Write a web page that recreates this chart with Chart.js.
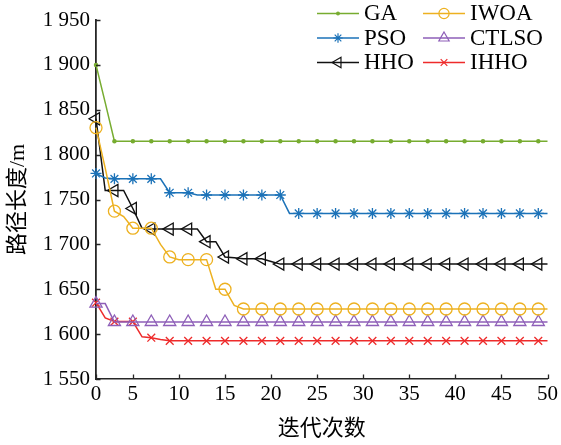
<!DOCTYPE html>
<html>
<head>
<meta charset="utf-8">
<script src="https://cdn.jsdelivr.net/npm/chart.js@4.4.0/dist/chart.umd.min.js"></script>
<style>
  html, body { margin: 0; padding: 0; background: #fff; }
</style>
</head>
<body>
<canvas id="canvasRuta" width="561" height="445"></canvas>
<script>
// iteraciones 1..50
var iteraciones = [
  1, 2, 3, 4, 5, 6, 7, 8, 9, 10,
  11, 12, 13, 14, 15, 16, 17, 18, 19, 20,
  21, 22, 23, 24, 25, 26, 27, 28, 29, 30,
  31, 32, 33, 34, 35, 36, 37, 38, 39, 40,
  41, 42, 43, 44, 45, 46, 47, 48, 49, 50
];

var ga = [
  1900, 1858, 1815, 1815, 1815, 1815, 1815, 1815, 1815, 1815,
  1815, 1815, 1815, 1815, 1815, 1815, 1815, 1815, 1815, 1815,
  1815, 1815, 1815, 1815, 1815, 1815, 1815, 1815, 1815, 1815,
  1815, 1815, 1815, 1815, 1815, 1815, 1815, 1815, 1815, 1815,
  1815, 1815, 1815, 1815, 1815, 1815, 1815, 1815, 1815, 1815
];
var pso = [
  1779, 1774, 1773, 1773, 1773, 1773, 1773, 1773, 1757.5, 1757.5,
  1757.5, 1755, 1755, 1755, 1755, 1755, 1755, 1755, 1755, 1755,
  1755, 1734.5, 1734.5, 1734.5, 1734.5, 1734.5, 1734.5, 1734.5, 1734.5, 1734.5,
  1734.5, 1734.5, 1734.5, 1734.5, 1734.5, 1734.5, 1734.5, 1734.5, 1734.5, 1734.5,
  1734.5, 1734.5, 1734.5, 1734.5, 1734.5, 1734.5, 1734.5, 1734.5, 1734.5, 1734.5
];
var hho = [
  1840, 1760, 1760, 1760, 1740, 1718, 1717, 1717, 1717, 1717,
  1717, 1717, 1703, 1703, 1686, 1685, 1684, 1684, 1684, 1681,
  1678, 1678, 1678, 1678, 1678, 1678, 1678, 1678, 1678, 1678,
  1678, 1678, 1678, 1678, 1678, 1678, 1678, 1678, 1678, 1678,
  1678, 1678, 1678, 1678, 1678, 1678, 1678, 1678, 1678, 1678
];
var iwoa = [
  1830, 1785, 1737, 1731, 1718, 1718, 1718, 1700, 1686, 1683,
  1683, 1683, 1683, 1650, 1650, 1632, 1628, 1628, 1628, 1628,
  1628, 1628, 1628, 1628, 1628, 1628, 1628, 1628, 1628, 1628,
  1628, 1628, 1628, 1628, 1628, 1628, 1628, 1628, 1628, 1628,
  1628, 1628, 1628, 1628, 1628, 1628, 1628, 1628, 1628, 1628
];
var ctlso = [
  1634, 1634, 1613.5, 1613.5, 1613.5, 1613.5, 1613.5, 1613.5, 1613.5, 1613.5,
  1613.5, 1613.5, 1613.5, 1613.5, 1613.5, 1613.5, 1613.5, 1613.5, 1613.5, 1613.5,
  1613.5, 1613.5, 1613.5, 1613.5, 1613.5, 1613.5, 1613.5, 1613.5, 1613.5, 1613.5,
  1613.5, 1613.5, 1613.5, 1613.5, 1613.5, 1613.5, 1613.5, 1613.5, 1613.5, 1613.5,
  1613.5, 1613.5, 1613.5, 1613.5, 1613.5, 1613.5, 1613.5, 1613.5, 1613.5, 1613.5
];
var ihho = [
  1635, 1618, 1614, 1614, 1614, 1597, 1596, 1594, 1592.5, 1592.5,
  1592.5, 1592.5, 1592.5, 1592.5, 1592.5, 1592.5, 1592.5, 1592.5, 1592.5, 1592.5,
  1592.5, 1592.5, 1592.5, 1592.5, 1592.5, 1592.5, 1592.5, 1592.5, 1592.5, 1592.5,
  1592.5, 1592.5, 1592.5, 1592.5, 1592.5, 1592.5, 1592.5, 1592.5, 1592.5, 1592.5,
  1592.5, 1592.5, 1592.5, 1592.5, 1592.5, 1592.5, 1592.5, 1592.5, 1592.5, 1592.5
];

// ticks
var xTickValues = [1, 5, 10, 15, 20, 25, 30, 35, 40, 45, 50];
var xTickLabels = ["0", "5", "10", "15", "20", "25", "30", "35", "40", "45", "50"];
var yTickValues = [1550, 1600, 1650, 1700, 1750, 1800, 1850, 1900, 1950];

var serif = "'Liberation Serif', 'Noto Sans CJK SC', serif";
var axisColor = "#262626";

// estilo de cada serie (orden de la leyenda: fila por fila)
var series = [
  { label: "GA", data: ga, color: "#77ac30", style: "circle", r: 1.6, rot: 0, fill: "#77ac30" },
  { label: "IWOA", data: iwoa, color: "#edb120", style: "circle", r: 6, rot: 0, fill: "rgba(0,0,0,0)" },
  { label: "PSO", data: pso, color: "#1b72b8", style: "star", r: 5.5, rot: 0, fill: "rgba(0,0,0,0)" },
  { label: "CTLSO", data: ctlso, color: "#8e5fb8", style: "triangle", r: 7, rot: 0, fill: "rgba(0,0,0,0)" },
  { label: "HHO", data: hho, color: "#111111", style: "triangle", r: 7, rot: -90, fill: "rgba(0,0,0,0)" },
  { label: "IHHO", data: ihho, color: "#ee2b2b", style: "crossRot", r: 5.5, rot: 0, fill: "rgba(0,0,0,0)" }
];

function markerCada2(r) {
  return function (c) {
    return c.dataIndex % 2 === 0 ? r : 0;
  };
}

var datasets = series.map(function (s) {
  return {
    label: s.label,
    data: s.data,
    borderColor: s.color,
    backgroundColor: s.fill,
    borderWidth: 1.5,
    pointStyle: s.style,
    pointRotation: s.rot,
    pointRadius: markerCada2(s.r),
    pointBorderWidth: 1.3,
    pointBorderColor: s.color,
    pointBackgroundColor: s.fill,
    tension: 0,
    clip: false
  };
});

// marcas de tick hacia dentro, como en MATLAB
var ticksDentro = {
  id: "ticksDentro",
  afterDraw: function (chart) {
    var ctx = chart.ctx;
    var a = chart.chartArea;
    var sx = chart.scales.x;
    var sy = chart.scales.y;
    ctx.save();
    ctx.strokeStyle = axisColor;
    ctx.lineWidth = 1.3;
    ctx.beginPath();
    xTickValues.forEach(function (v) {
      var px = Math.round(sx.getPixelForValue(v)) + 0.5;
      ctx.moveTo(px, a.bottom);
      ctx.lineTo(px, a.bottom - 4.5);
    });
    yTickValues.forEach(function (v) {
      var py = Math.round(sy.getPixelForValue(v)) + 0.5;
      ctx.moveTo(a.left, py);
      ctx.lineTo(a.left + 4.5, py);
    });
    ctx.stroke();
    ctx.restore();
  }
};

// leyenda en dos columnas
var leyenda = {
  id: "leyenda",
  afterDraw: function (chart) {
    var ctx = chart.ctx;
    var colX = [317, 423];
    var rowY = [20, 44.5, 69];
    ctx.save();
    series.forEach(function (s, i) {
      var x0 = colX[i % 2];
      var base = rowY[Math.floor(i / 2)];
      var ly = base - 6.5;
      ctx.strokeStyle = s.color;
      ctx.lineWidth = 1.5;
      ctx.beginPath();
      ctx.moveTo(x0, ly);
      ctx.lineTo(x0 + 42, ly);
      ctx.stroke();
      ctx.fillStyle = s.fill;
      ctx.lineWidth = 1.2;
      Chart.helpers.drawPoint(ctx, {
        pointStyle: s.style,
        radius: s.r * 0.85,
        rotation: s.rot,
        borderWidth: 1.2
      }, x0 + 21, ly);
      ctx.fillStyle = "#000";
      ctx.font = "23px " + serif;
      ctx.textAlign = "left";
      ctx.textBaseline = "alphabetic";
      ctx.fillText(s.label, x0 + 47, base);
    });
    ctx.restore();
  }
};

var ctx = document.getElementById("canvasRuta").getContext("2d");

window.miGrafica = new Chart(ctx, {
  type: "line",
  data: {
    labels: iteraciones,
    datasets: datasets
  },
  plugins: [ticksDentro, leyenda],
  options: {
    responsive: false,
    animation: false,
    layout: {
      padding: { left: 0, right: 10, top: 20, bottom: 0 }
    },
    plugins: {
      legend: { display: false },
      tooltip: { enabled: false }
    },
    scales: {
      x: {
        type: "linear",
        min: 1,
        max: 50,
        afterBuildTicks: function (scale) {
          scale.ticks = xTickValues.map(function (v) { return { value: v }; });
        },
        afterFit: function (scale) {
          scale.height = 66;
        },
        grid: { display: false, drawTicks: false },
        border: { display: true, color: axisColor, width: 1.5 },
        ticks: {
          autoSkip: false,
          maxRotation: 0,
          padding: 3,
          color: "#000",
          font: { family: serif, size: 21 },
          callback: function (v) {
            var k = xTickValues.indexOf(v);
            return k >= 0 ? xTickLabels[k] : "";
          }
        },
        title: {
          display: true,
          text: "迭代次数",
          color: "#000",
          padding: { top: 0, bottom: 3 },
          font: { family: serif, size: 22 }
        }
      },
      y: {
        type: "linear",
        min: 1550,
        max: 1950,
        afterBuildTicks: function (scale) {
          scale.ticks = yTickValues.map(function (v) { return { value: v }; });
        },
        afterFit: function (scale) {
          scale.width = 96;
        },
        grid: { display: false, drawTicks: false },
        border: { display: true, color: axisColor, width: 1.8 },
        ticks: {
          padding: 6,
          color: "#000",
          font: { family: serif, size: 21 },
          callback: function (v) {
            return Math.floor(v / 1000) + " " + String(v % 1000);
          }
        },
        title: {
          display: true,
          text: "路径长度/m",
          color: "#000",
          padding: { top: 5, bottom: 0 },
          font: { family: serif, size: 22 }
        }
      }
    }
  }
});
</script>
</body>
</html>
